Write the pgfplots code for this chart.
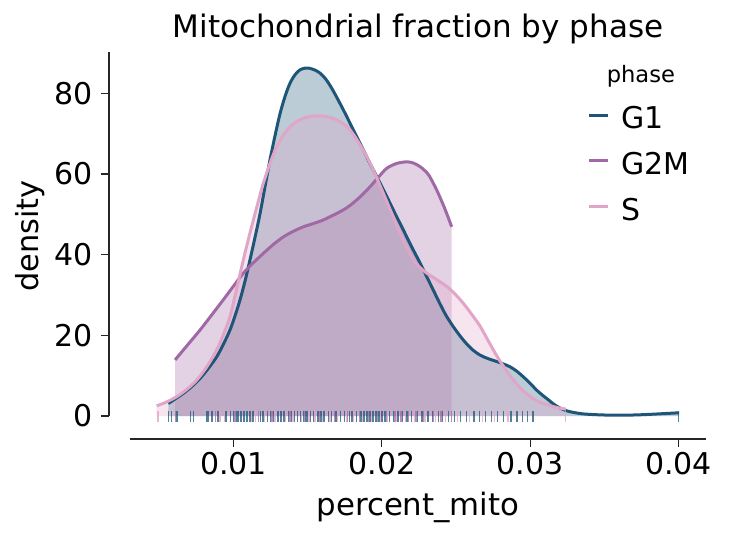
\documentclass[border=0pt]{standalone}
\usepackage{fontspec}
\setmainfont{DejaVu Sans}
\usepackage{pgfplots}
\usepackage{pgfplotstable}
\pgfplotsset{compat=1.18}
\definecolor{cG}{RGB}{30,85,120}
\definecolor{cM}{RGB}{160,105,165}
\definecolor{cS}{RGB}{225,165,200}
\definecolor{spine}{RGB}{38,38,38}
\pgfplotstableread{
x y
0.00560 3.1
0.00610 4.3
0.00661 5.6
0.00718 7.3
0.00774 9.3
0.00830 11.8
0.00887 14.7
0.00932 17.8
0.00976 21.3
0.01010 24.8
0.01044 28.8
0.01078 33.5
0.01111 38.7
0.01145 44.3
0.01179 50.2
0.01212 56.8
0.01246 63.5
0.01280 69.5
0.01314 75.0
0.01348 79.3
0.01381 82.5
0.01415 84.6
0.01448 85.8
0.01480 86.2
0.01510 86.2
0.01545 85.8
0.01583 85.0
0.01620 83.6
0.01658 81.5
0.01696 79.0
0.01750 75.2
0.01808 70.9
0.01864 66.8
0.01920 62.6
0.01977 58.5
0.02033 54.4
0.02089 50.2
0.02145 46.1
0.02200 42.0
0.02258 37.9
0.02303 34.5
0.02347 31.2
0.02392 27.8
0.02438 24.6
0.02494 21.5
0.02550 18.8
0.02606 16.6
0.02662 15.1
0.02718 14.2
0.02775 13.5
0.02820 12.9
0.02864 12.2
0.02910 11.1
0.02954 9.7
0.03000 8.1
0.03044 6.4
0.03085 5.1
0.03123 4.0
0.03160 2.9
0.03200 2.0
0.03245 1.3
0.03290 0.9
0.03350 0.55
0.03404 0.4
0.03500 0.25
0.03626 0.2
0.03740 0.3
0.03854 0.5
0.04004 0.8
}\gone
\pgfplotstableread{
x y
0.00606 13.9
0.00690 17.6
0.00774 21.3
0.00852 25.0
0.00931 28.8
0.01000 32.2
0.01066 35.4
0.01134 38.0
0.01201 40.3
0.01268 42.5
0.01336 44.4
0.01404 45.8
0.01471 46.9
0.01538 47.7
0.01606 48.6
0.01651 49.4
0.01696 50.2
0.01741 51.1
0.01786 52.2
0.01853 54.3
0.01920 56.8
0.01977 59.2
0.02033 61.4
0.02100 62.6
0.02168 63.0
0.02213 62.7
0.02258 61.8
0.02290 60.8
0.02320 59.5
0.02370 56.0
0.02420 51.8
0.02471 46.9
}\gtwom
\pgfplotstableread{
x y
0.00482 2.5
0.00550 3.5
0.00617 4.8
0.00685 6.6
0.00752 8.9
0.00820 12.2
0.00887 16.4
0.00932 20.2
0.00976 24.6
0.01021 31.5
0.01066 38.7
0.01100 43.8
0.01134 48.6
0.01168 53.3
0.01201 57.7
0.01246 62.6
0.01291 66.8
0.01336 69.6
0.01381 71.7
0.01426 73.0
0.01471 73.8
0.01527 74.3
0.01583 74.4
0.01640 74.1
0.01696 73.4
0.01741 72.4
0.01786 70.9
0.01842 67.9
0.01898 64.3
0.01954 60.0
0.02010 55.2
0.02066 50.3
0.02123 45.3
0.02168 41.8
0.02213 38.7
0.02258 36.8
0.02303 35.4
0.02370 33.8
0.02438 32.1
0.02494 30.2
0.02550 27.9
0.02606 25.2
0.02662 22.3
0.02718 18.6
0.02775 14.9
0.02831 11.7
0.02887 8.9
0.02944 6.6
0.03000 4.8
0.03060 3.5
0.03123 2.7
0.03180 2.1
0.03242 1.7
}\sph
\begin{document}
\begin{tikzpicture}
\useasboundingbox (0,0) rectangle (364.5pt,269pt);
\begin{axis}[
  at={(65pt,61pt)}, anchor=south west,
  scale only axis, width=288pt, height=182.15pt,
  xmin=0.003021, xmax=0.041854, ymin=0, ymax=90.3,
  clip=false,
  axis lines*=left,
  axis x line shift=11.5pt, axis y line shift=10.5pt,
  axis line style={spine, line width=0.65pt},
  xtick={0.01,0.02,0.03,0.04}, ytick={0,20,40,60,80},
  scaled x ticks=false,
  xticklabel style={/pgf/number format/fixed,/pgf/number format/precision=2, yshift=1pt},
  yticklabel style={xshift=-0.5pt},
  tick align=outside, major tick length=4pt,
  tick style={spine, line width=0.6pt},
  ticklabel style={font=\fontsize{15}{17}\selectfont, text=black},
  /pgf/number format/assume math mode=true,
]
% fills
\addplot[draw=none, fill=cG, fill opacity=0.3, smooth] table {\gone} \closedcycle;
\addplot[draw=none, fill=cM, fill opacity=0.3, smooth] table {\gtwom} \closedcycle;
\addplot[draw=none, fill=cS, fill opacity=0.3, smooth] table {\sph} \closedcycle;
% rugs
\addplot[only marks, mark=|, mark size=2.75pt, mark options={cG, draw opacity=0.75, line width=0.7pt}] coordinates {
(0.0056,0) (0.0058,0) (0.0062,0) (0.0071,0) (0.0073,0) (0.0082,0) (0.0083,0) (0.0085,0) (0.0086,0) (0.0089,0) (0.0090,0) (0.0095,0) (0.0098,0) (0.0100,0) (0.0102,0) (0.0103,0) (0.0105,0) (0.0107,0) (0.0109,0) (0.0111,0) (0.0113,0) (0.0118,0) (0.0120,0) (0.0123,0) (0.0125,0) (0.0127,0) (0.0130,0) (0.0132,0) (0.0134,0) (0.0137,0) (0.0139,0) (0.0141,0) (0.0143,0) (0.0145,0) (0.0147,0) (0.0149,0) (0.0150,0) (0.0152,0) (0.0154,0) (0.0157,0) (0.0159,0) (0.0161,0) (0.0164,0) (0.0166,0) (0.0169,0) (0.0172,0) (0.0175,0) (0.0178,0) (0.0180,0) (0.0183,0) (0.0186,0) (0.0188,0) (0.0190,0) (0.0192,0) (0.0194,0) (0.0196,0) (0.0198,0) (0.0200,0) (0.0202,0) (0.0205,0) (0.0208,0) (0.0211,0) (0.0214,0) (0.0217,0) (0.0220,0) (0.0224,0) (0.0227,0) (0.0231,0) (0.0234,0) (0.0238,0) (0.0241,0) (0.0245,0) (0.0249,0) (0.0253,0) (0.0257,0) (0.0262,0) (0.0266,0) (0.0270,0) (0.0274,0) (0.0278,0) (0.0282,0) (0.0287,0) (0.0291,0) (0.0295,0) (0.0298,0) (0.0302,0) (0.0400,0)
};
\addplot[only marks, mark=|, mark size=2.75pt, mark options={cM, draw opacity=0.75, line width=0.7pt}] coordinates {
(0.0061,0) (0.0088,0) (0.0101,0) (0.0117,0) (0.0126,0) (0.0138,0) (0.0148,0) (0.0158,0) (0.0168,0) (0.0177,0) (0.0185,0) (0.0191,0) (0.0197,0) (0.0203,0) (0.0209,0) (0.0213,0) (0.0218,0) (0.0223,0) (0.0228,0) (0.0235,0) (0.0240,0) (0.0247,0)
};
\addplot[only marks, mark=|, mark size=2.75pt, mark options={cS, draw opacity=0.8, line width=0.7pt}] coordinates {
(0.0049,0) (0.0091,0) (0.0094,0) (0.0112,0) (0.0115,0) (0.0121,0) (0.0128,0) (0.0135,0) (0.0140,0) (0.0146,0) (0.0151,0) (0.0155,0) (0.0160,0) (0.0165,0) (0.0170,0) (0.0176,0) (0.0181,0) (0.0187,0) (0.0193,0) (0.0199,0) (0.0204,0) (0.0210,0) (0.0216,0) (0.0222,0) (0.0229,0) (0.0236,0) (0.0243,0) (0.0251,0) (0.0259,0) (0.0268,0) (0.0276,0) (0.0285,0) (0.0324,0)
};
% lines
\addplot[cG, line width=1.5pt, smooth] table {\gone};
\addplot[cM, line width=1.5pt, smooth] table {\gtwom};
\addplot[cS, line width=1.5pt, smooth] table {\sph};
% title and labels
\node[anchor=base, font=\fontsize{15.5}{18}\selectfont] at ([yshift=6.9pt]rel axis cs:0.5,1) {Mitochondrial fraction by phase};
\node[anchor=base, font=\fontsize{15.4}{18}\selectfont] at ([yshift=-49.5pt]rel axis cs:0.5,0) {percent\_mito};
\node[anchor=base, rotate=90, font=\fontsize{15.2}{18}\selectfont] at ([xshift=-45.5pt]rel axis cs:0,0.494) {density};
% legend
\node[anchor=base, font=\fontsize{11.3}{13}\selectfont] at (rel axis cs:0.887,0.915) {phase};
\draw[cG, line width=1.5pt] (rel axis cs:0.797,0.826) -- (rel axis cs:0.830,0.826);
\draw[cM, line width=1.5pt] (rel axis cs:0.797,0.700) -- (rel axis cs:0.830,0.700);
\draw[cS, line width=1.5pt] (rel axis cs:0.797,0.574) -- (rel axis cs:0.830,0.574);
\node[anchor=base west, inner sep=0pt, font=\fontsize{15}{17}\selectfont] at ([yshift=-6.6pt]rel axis cs:0.8524,0.826) {G1};
\node[anchor=base west, inner sep=0pt, font=\fontsize{15}{17}\selectfont] at ([yshift=-6.6pt]rel axis cs:0.8524,0.700) {G2M};
\node[anchor=base west, inner sep=0pt, font=\fontsize{15}{17}\selectfont] at ([yshift=-6.6pt]rel axis cs:0.8524,0.574) {S};
\end{axis}
\end{tikzpicture}
\end{document}
